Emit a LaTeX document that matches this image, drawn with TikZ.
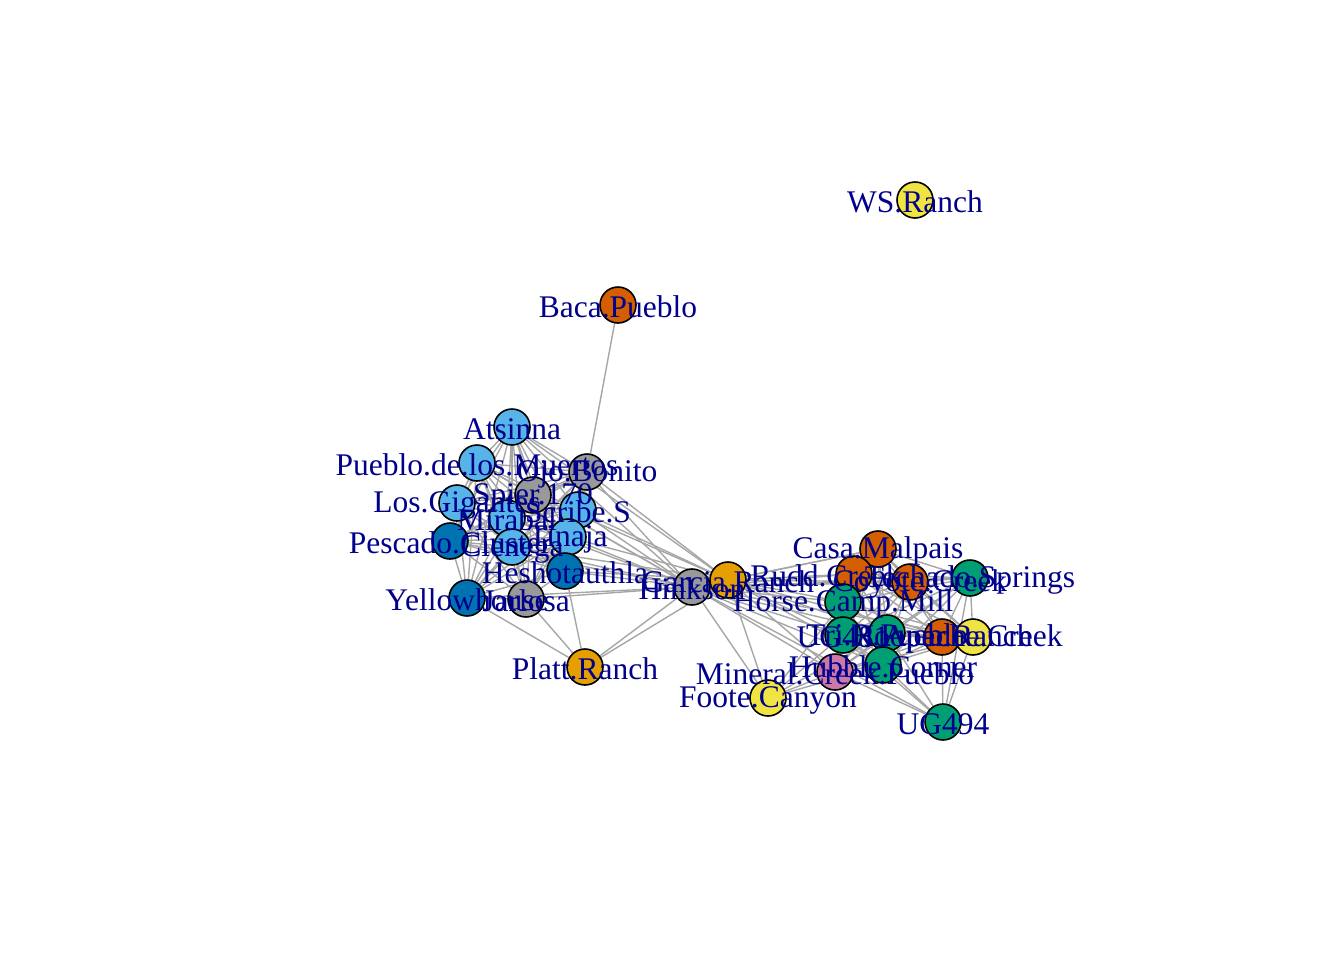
\documentclass[tikz,border=0pt]{standalone}
\usepackage{fontspec}
\setmainfont{Liberation Serif}
\usetikzlibrary{backgrounds}
\definecolor{skyblue}{HTML}{56B4E9}
\definecolor{deepblue}{HTML}{0072B2}
\definecolor{stone}{HTML}{999999}
\definecolor{amber}{HTML}{E69F00}
\definecolor{vermil}{HTML}{D55E00}
\definecolor{teal}{HTML}{009E73}
\definecolor{lemon}{HTML}{F0E442}
\definecolor{mauve}{HTML}{CC79A7}
\definecolor{labelblue}{HTML}{00008B}
\definecolor{tiegray}{HTML}{A6A6A6}
\tikzset{
  site/.style={circle, draw=black, line width=0.8pt, minimum size=18pt, inner sep=0pt},
  sitelabel/.style={text=labelblue, font=\fontsize{15.75}{16}\selectfont, inner sep=0pt, yshift=-1pt},
  tie/.style={draw=tiegray, line width=0.7pt}
}
\begin{document}
\begin{tikzpicture}[x=0.5pt,y=-0.5pt]
    \useasboundingbox (0,0) rectangle (1344,960);
    \node[site, fill=lemon] (ws) at (915,200) {};
    \node[site, fill=vermil] (baca) at (618,305) {};
    \node[site, fill=skyblue] (atsinna) at (512,427) {};
    \node[site, fill=skyblue] (muertos) at (477,463) {};
    \node[site, fill=stone] (ojo) at (587,472) {};
    \node[site, fill=skyblue] (gigantes) at (457,503) {};
    \node[site, fill=stone] (spier) at (533,495) {};
    \node[site, fill=skyblue] (scribe) at (578,510) {};
    \node[site, fill=skyblue] (mirabal) at (507,518) {};
    \node[site, fill=deepblue] (pescado) at (450,541) {};
    \node[site, fill=skyblue] (cienega) at (512,547) {};
    \node[site, fill=skyblue] (tinaja) at (568,537) {};
    \node[site, fill=deepblue] (heshot) at (565,571) {};
    \node[site, fill=deepblue] (yellow) at (467,598) {};
    \node[site, fill=stone] (jarlosa) at (526,599) {};
    \node[site, fill=amber] (platt) at (585,667) {};
    \node[site, fill=stone] (hinkson) at (692,587) {};
    \node[site, fill=amber] (garcia) at (728,580) {};
    \node[site, fill=vermil] (casa) at (878,549) {};
    \node[site, fill=teal] (techado) at (970,578) {};
    \node[site, fill=vermil] (rudd) at (854,574) {};
    \node[site, fill=vermil] (coyote) at (910,582) {};
    \node[site, fill=teal] (horse) at (843,602) {};
    \node[site, fill=teal] (ug481) at (843,635) {};
    \node[site, fill=teal] (tri) at (887,633) {};
    \node[site, fill=vermil] (hooper) at (942,637) {};
    \node[site, fill=lemon] (apache) at (973,637) {};
    \node[site, fill=teal] (hubble) at (883,665) {};
    \node[site, fill=mauve] (mineral) at (835,672) {};
    \node[site, fill=lemon] (foote) at (768,698) {};
    \node[site, fill=teal] (ug494) at (943,722) {};
    \begin{pgfonlayer}{background}
        \foreach \a [count=\i] in {atsinna,muertos,ojo,gigantes,spier,scribe,mirabal,pescado,cienega,tinaja,heshot,yellow,jarlosa}
            \foreach \b [count=\j] in {atsinna,muertos,ojo,gigantes,spier,scribe,mirabal,pescado,cienega,tinaja,heshot,yellow,jarlosa}
                {\ifnum\j>\i \draw[tie] (\a) -- (\b); \fi}
        \foreach \a [count=\i] in {casa,techado,rudd,coyote,horse,ug481,tri,apache,hooper,hubble,mineral}
            \foreach \b [count=\j] in {casa,techado,rudd,coyote,horse,ug481,tri,apache,hooper,hubble,mineral}
                {\ifnum\j>\i \draw[tie] (\a) -- (\b); \fi}
        \foreach \a in {atsinna,muertos,ojo,spier,scribe,mirabal,cienega,tinaja,heshot,yellow,jarlosa,pescado}
            \draw[tie] (hinkson) -- (\a);
        \foreach \a in {ojo,spier,scribe,tinaja,heshot,cienega,atsinna}
            \draw[tie] (garcia) -- (\a);
        \foreach \a in {casa,rudd,coyote,horse,ug481,tri,hubble,mineral,foote,apache,techado,ug494}
            \draw[tie] (hinkson) -- (\a);
        \foreach \a in {casa,rudd,coyote,horse,ug481,tri,hubble,mineral,foote,hooper}
            \draw[tie] (garcia) -- (\a);
        \foreach \a in {hinkson,garcia,heshot,jarlosa,yellow}
            \draw[tie] (platt) -- (\a);
        \foreach \a in {mineral,hubble,ug481,tri,horse}
            \draw[tie] (foote) -- (\a);
        \foreach \a in {hubble,mineral,tri,apache,hooper,ug481,techado}
            \draw[tie] (ug494) -- (\a);
        \draw[tie] (baca) -- (ojo);
        \draw[tie] (hinkson) -- (garcia);
    \end{pgfonlayer}
    \node[sitelabel] at (ws) {WS.Ranch};
    \node[sitelabel] at (baca) {Baca.Pueblo};
    \node[sitelabel] at (atsinna) {Atsinna};
    \node[sitelabel] at (muertos) {Pueblo.de.los.Muertos};
    \node[sitelabel] at (ojo) {Ojo.Bonito};
    \node[sitelabel] at (gigantes) {Los.Gigantes};
    \node[sitelabel] at (spier) {Spier.170};
    \node[sitelabel] at (scribe) {Scribe.S};
    \node[sitelabel] at (mirabal) {Mirabal};
    \node[sitelabel] at (pescado) {Pescado.Cluster};
    \node[sitelabel] at (cienega) {Cienega};
    \node[sitelabel] at (tinaja) {Tinaja};
    \node[sitelabel] at (heshot) {Heshotauthla};
    \node[sitelabel] at (yellow) {Yellowhouse};
    \node[sitelabel] at (jarlosa) {Jarlosa};
    \node[sitelabel] at (platt) {Platt.Ranch};
    \node[sitelabel] at (hinkson) {Hinkson};
    \node[sitelabel] at (garcia) {Garcia.Ranch};
    \node[sitelabel] at (casa) {Casa.Malpais};
    \node[sitelabel] at (techado) {Techado.Springs};
    \node[sitelabel] at ([xshift=-14pt]rudd) {Rudd.Creek};
    \node[sitelabel] at ([xshift=5pt]coyote) {Coyote.Creek};
    \node[sitelabel] at (horse) {Horse.Camp.Mill};
    \node[sitelabel] at (ug481) {UG481};
    \node[sitelabel] at (tri) {Tri.R.Pueblo};
    \node[sitelabel] at (hooper) {Hooper.Ranch};
    \node[sitelabel] at (apache) {Apache.Creek};
    \node[sitelabel] at (hubble) {Hubble.Corner};
    \node[sitelabel] at (mineral) {Mineral.Creek.Pueblo};
    \node[sitelabel] at (foote) {Foote.Canyon};
    \node[sitelabel] at (ug494) {UG494};
\end{tikzpicture}
\end{document}
